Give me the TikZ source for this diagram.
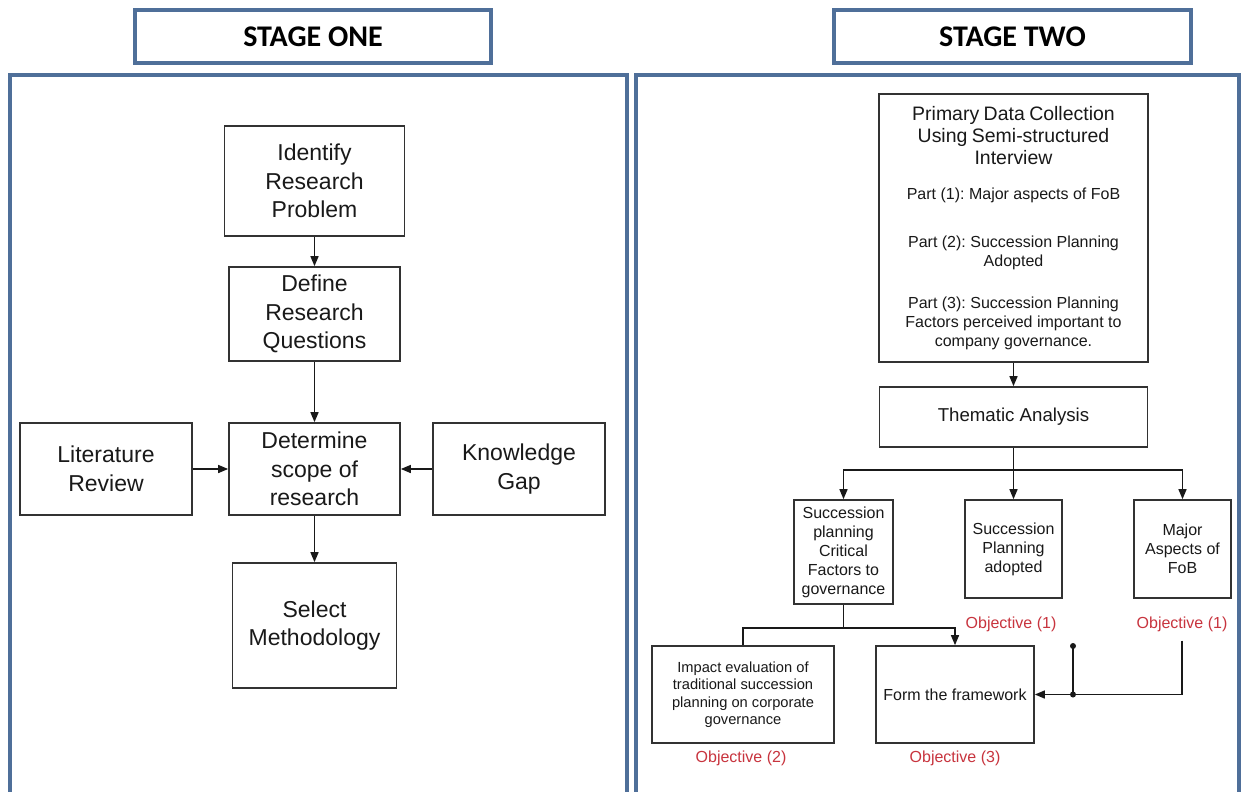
\documentclass[tikz,border=0pt]{standalone}
\usepackage{fontspec}
\setmainfont{Liberation Sans}
\newfontfamily\headfont{Carlito}
\usetikzlibrary{arrows.meta}
\definecolor{panelblue}{RGB}{79,111,153}
\definecolor{boxline}{RGB}{50,50,50}
\definecolor{inktext}{RGB}{25,25,25}
\definecolor{objred}{RGB}{200,52,62}
\frenchspacing
\begin{document}
\begin{tikzpicture}[x=0.75pt,y=-0.75pt,
  sz/.style 2 args={minimum width={#1*0.75pt},minimum height={#2*0.75pt}},
  box/.style={draw=boxline,line width=1.25pt,fill=white,inner sep=0pt,align=center,text=inktext},
  bigtxt/.style={font=\fontsize{17.25}{21.4}\selectfont},
  midtxt/.style={font=\fontsize{12}{14.25}\selectfont},
  smalltxt/.style={font=\fontsize{11}{13.1}\selectfont},
  stagebox/.style={draw=panelblue,line width=2.4pt,fill=white,inner sep=0pt,
    font=\headfont\bfseries\fontsize{22.5}{27}\selectfont},
  panel/.style={draw=panelblue,line width=2.4pt},
  conn/.style={draw=inktext,line width=1.1pt},
  arr/.style={conn,-{Triangle[length=7.5pt,width=6pt]}},
  objective/.style={text=objred,font=\fontsize{12}{14}\selectfont,inner sep=0pt},
]
\useasboundingbox (0,0) rectangle (1242,792);
\fill[white] (0,0) rectangle (1242,792);

% panel frames (open at the bottom edge)
\draw[panel] (10,800) -- (10,75) -- (627,75) -- (627,800);
\draw[panel] (636,800) -- (636,75) -- (1239,75) -- (1239,800);

% stage headers
\node[stagebox,sz={356}{53}] (stage1) at (313,36.5) {STAGE ONE};
\node[stagebox,sz={357}{53}] (stage2) at (1012.5,36.5) {STAGE TWO};

% ---------- stage one ----------
\node[box,bigtxt,sz={180}{110}] (identify) at (314.5,181) {Identify\\Research\\Problem};
\node[box,bigtxt,sz={171}{94}] (define) at (314.5,314) {Define\\Research\\Questions};
\node[box,bigtxt,sz={171}{92}] (scope) at (314.5,469) {Determine\\scope of\\research};
\node[box,bigtxt,sz={172}{92}] (litrev) at (106,469) {Literature\\Review};
\node[box,bigtxt,sz={172}{92}] (gap) at (519,469) {Knowledge\\Gap};
\node[box,bigtxt,sz={164}{125}] (method) at (314.5,625.5) {Select\\Methodology};

\draw[arr] (identify) -- (define);
\draw[arr] (define) -- (scope);
\draw[arr] (litrev) -- (scope);
\draw[arr] (gap) -- (scope);
\draw[arr] (scope) -- (method);

% ---------- stage two ----------
\node[box,sz={269}{268},text width={262*0.75pt}] (primary) at (1013.5,228) {%
  \fontsize{14.6}{16.5}\selectfont Primary Data Collection\\Using Semi-structured\\Interview\par
  \vspace{12pt}
  \fontsize{12}{14.25}\selectfont Part (1): Major aspects of FoB\par
  \vspace{21.75pt}
  Part (2): Succession Planning\\Adopted\par
  \vspace{17.25pt}
  Part (3): Succession Planning\\Factors perceived important to\\company governance.\par};
\node[box,font=\fontsize{14}{16}\selectfont,sz={268}{60}] (thematic) at (1013.5,417) {Thematic Analysis};

\node[box,midtxt,sz={99}{104}] (critical) at (843.5,552) {Succession\\planning\\Critical\\Factors to\\governance};
\node[box,midtxt,sz={97}{98}] (adopted) at (1013.5,549) {Succession\\Planning\\adopted};
\node[box,midtxt,sz={97}{98}] (major) at (1182.5,549) {Major\\Aspects of\\FoB};

\node[objective] (obj1a) at (1011,624) {Objective (1)};
\node[objective] (obj1b) at (1182,624) {Objective (1)};

\node[box,smalltxt,sz={182}{97}] (impact) at (743,694.5) {Impact evaluation of\\traditional succession\\planning on corporate\\governance};
\node[box,midtxt,sz={158}{97}] (form) at (955,694.5) {Form the framework};

\node[objective] (obj2) at (741,758) {Objective (2)};
\node[objective] (obj3) at (955,758) {Objective (3)};

\draw[arr] (primary) -- (thematic);
\coordinate (bus) at (1013.5,470);
\draw[conn] (thematic) -- (bus);
\draw[arr] (bus) -| (critical.north);
\draw[arr] (bus) -- (adopted);
\draw[arr] (bus) -| (major.north);

\coordinate (split) at (843.5,628);
\draw[conn] (critical) -- (split);
\draw[conn] (split) -| (impact.north);
\draw[arr] (split) -| (form.north);

\draw[arr] ([yshift=-6.75pt]obj1b.south) |- (form.east);
\coordinate (jtop) at (1073,646);
\coordinate (jmid) at (jtop |- form.east);
\draw[conn] (jtop) -- (jmid);
\fill[inktext] (jtop) circle[radius=3];
\fill[inktext] (jmid) circle[radius=3];
\end{tikzpicture}
\end{document}
